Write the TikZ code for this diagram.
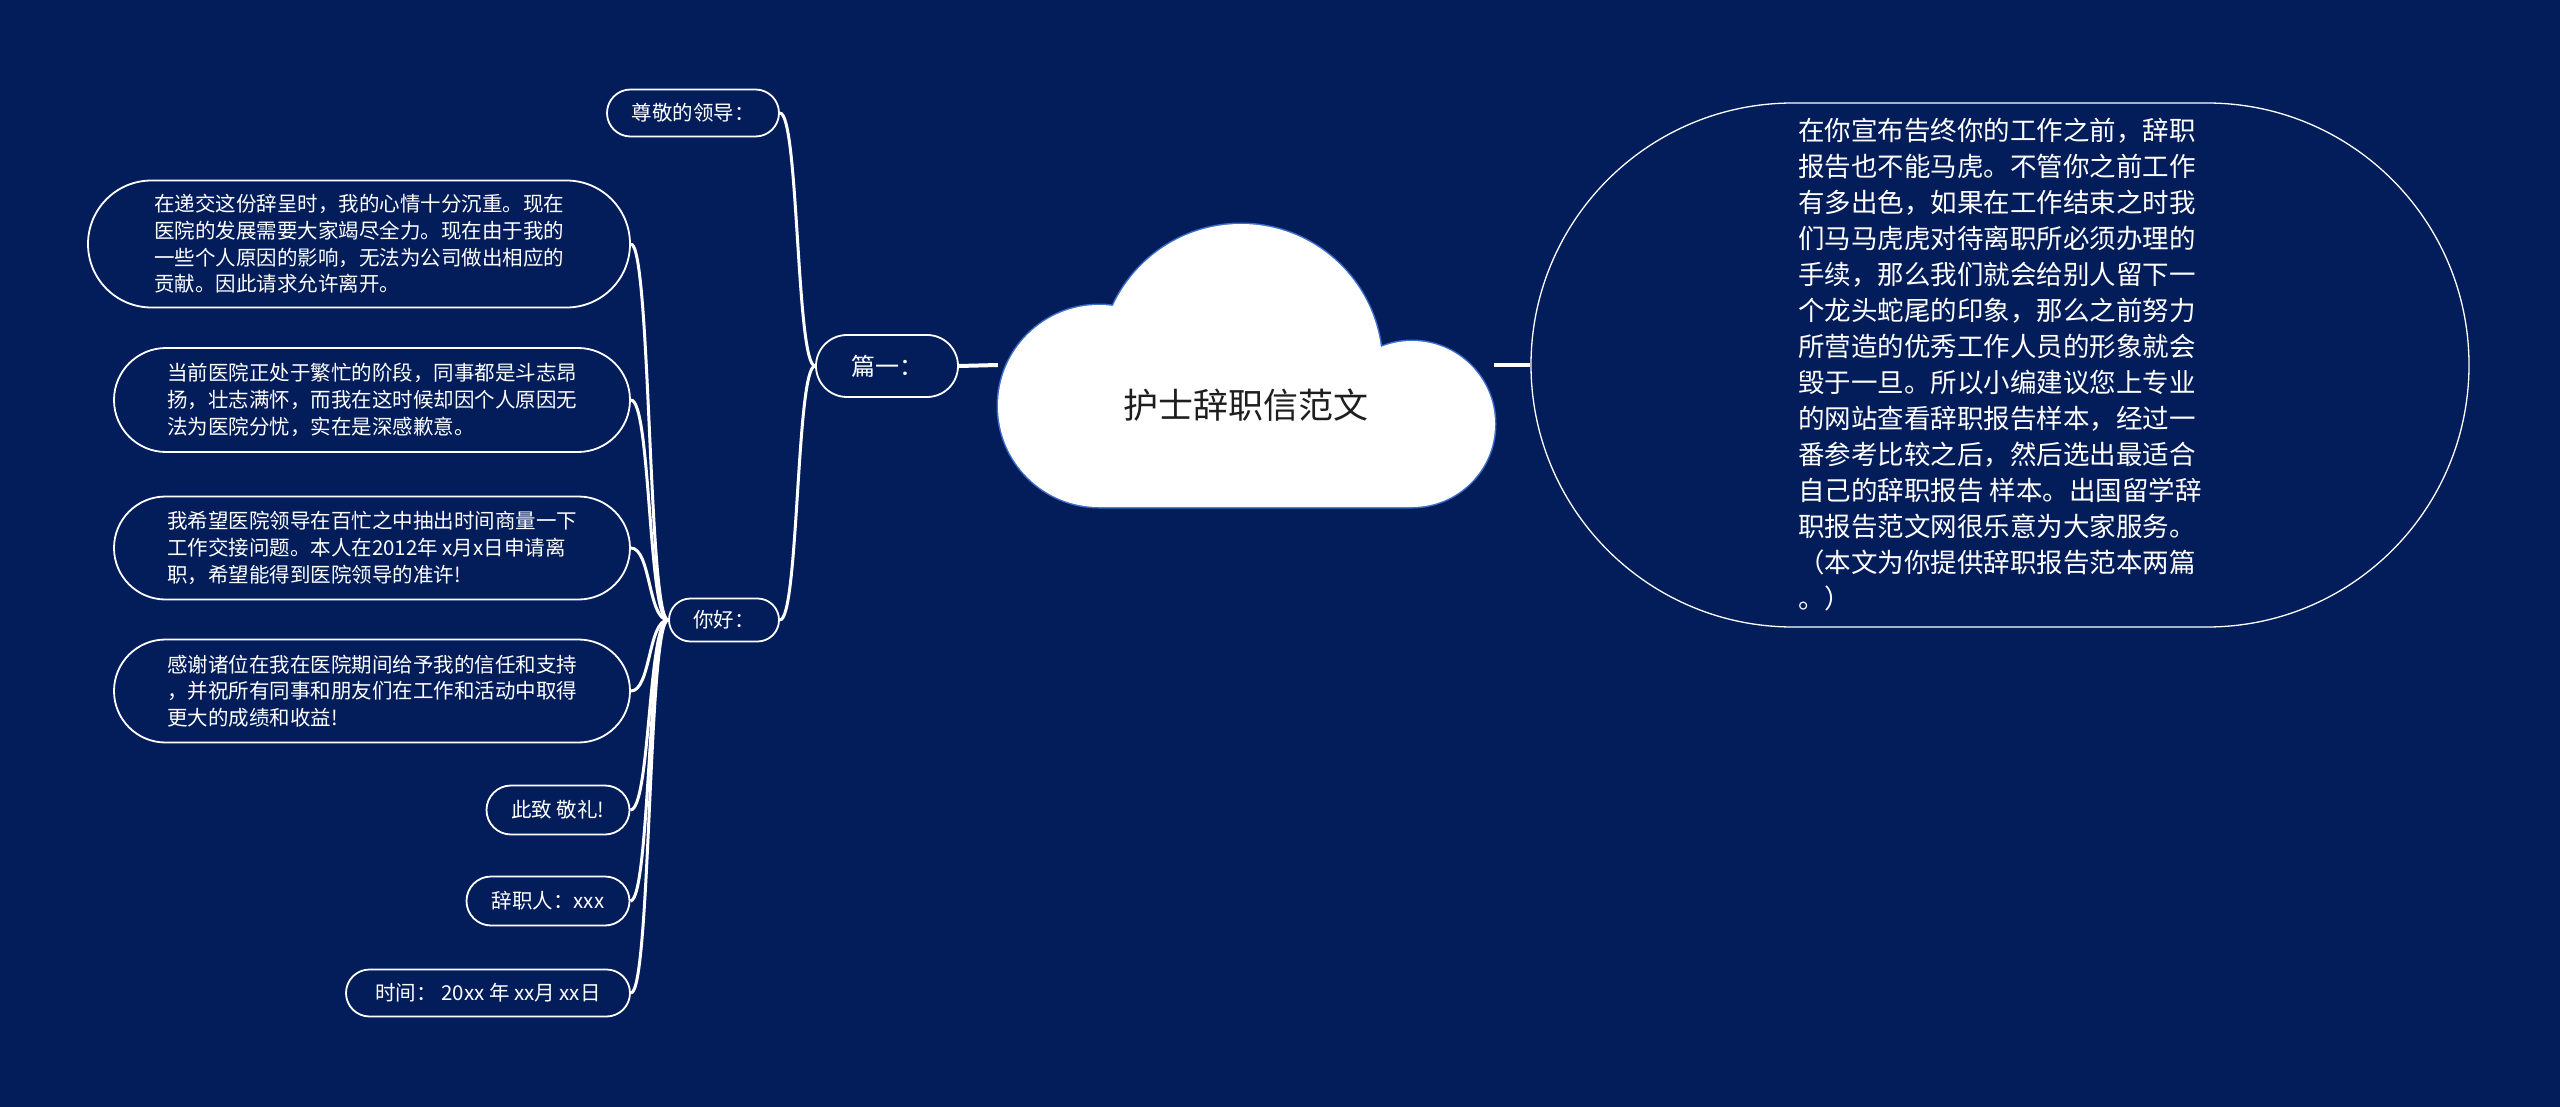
\documentclass[tikz,border=0pt]{standalone}
\usepackage{fontspec}
\setmainfont{Noto Sans CJK SC}
\usetikzlibrary{positioning, shapes.misc, calc}

\definecolor{bgblue}{RGB}{3,29,91}
\definecolor{cloudedge}{RGB}{58,108,200}
\definecolor{titlegray}{RGB}{30,30,30}

\tikzset{
	smalltext/.style={font=\fontsize{20.5}{26.7}\selectfont, text=white}
}
\tikzset{
	bigtext/.style={font=\fontsize{26.5}{36}\selectfont, text=white}
}

\begin{document}
\begin{tikzpicture}[x=1pt, y=-1pt]

      \tikzset{
        basicnode/.style={
            shape=rounded rectangle,
            draw=white,
            line width=1.8pt,
            inner sep=0pt,
            align=left,
            smalltext
          },
        branch/.style={draw=white, line width=3pt}
      }

      \fill[bgblue] (0,0) rectangle (2560,1107);
      \useasboundingbox (0,0) rectangle (2560,1107);

      % cloud
      \draw[cloudedge, line width=3pt] (1241,365) circle[radius=141pt]
        (1099,406) circle[radius=101pt] (1412,424) circle[radius=83pt]
        (1099,420) rectangle (1412,507);
      \fill[white] (1241,365) circle[radius=141pt]
        (1099,406) circle[radius=101pt] (1412,424) circle[radius=83pt]
        (1099,420) rectangle (1412,507);

      \node[minimum width=496pt, minimum height=283pt, inner sep=0pt] (cloud) at (1246,365) {};
      \node[font=\fontsize{35}{40}\selectfont, text=titlegray] (title) at (1246,405) {护士辞职信范文};

      \node[basicnode, line width=1.3pt, bigtext, minimum width=938pt, minimum height=524pt] (intro) at (2000,365)
        {在你宣布告终你的工作之前，辞职\\报告也不能马虎。不管你之前工作\\有多出色，如果在工作结束之时我\\们马马虎虎对待离职所必须办理的\\手续，那么我们就会给别人留下一\\个龙头蛇尾的印象，那么之前努力\\所营造的优秀工作人员的形象就会\\毁于一旦。所以小编建议您上专业\\的网站查看辞职报告样本，经过一\\番参考比较之后，然后选出最适合\\自己的辞职报告 样本。出国留学辞\\职报告范文网很乐意为大家服务。\\（本文为你提供辞职报告范本两篇\\。）};

      \node[basicnode, font=\fontsize{24}{28}\selectfont, minimum width=142pt, minimum height=62pt] (pian1) at (887,366) {篇一：};
      \node[basicnode, minimum width=172pt, minimum height=47pt] (zunjing) at (693,113) {尊敬的领导：};
      \node[basicnode, minimum width=110pt, minimum height=43pt] (nihao) at (724,620) {你好：};

      \node[basicnode, minimum width=542pt, minimum height=127pt] (c1) at (359,244)
        {在递交这份辞呈时，我的心情十分沉重。现在\\医院的发展需要大家竭尽全力。现在由于我的\\一些个人原因的影响，无法为公司做出相应的\\贡献。因此请求允许离开。};
      \node[basicnode, minimum width=516pt, minimum height=104pt] (c2) at (372,400)
        {当前医院正处于繁忙的阶段，同事都是斗志昂\\扬，壮志满怀，而我在这时候却因个人原因无\\法为医院分忧，实在是深感歉意。};
      \node[basicnode, minimum width=516pt, minimum height=103pt] (c3) at (372,548)
        {我希望医院领导在百忙之中抽出时间商量一下\\工作交接问题。本人在2012年 x月x日申请离\\职，希望能得到医院领导的准许!};
      \node[basicnode, minimum width=516pt, minimum height=103pt] (c4) at (372,691)
        {感谢诸位在我在医院期间给予我的信任和支持\\，并祝所有同事和朋友们在工作和活动中取得\\更大的成绩和收益!};
      \node[basicnode, minimum width=143pt, minimum height=49pt] (c5) at (558,810) {此致 敬礼!};
      \node[basicnode, minimum width=163pt, minimum height=49pt] (c6) at (548,901) {辞职人：xxx};
      \node[basicnode, minimum width=284pt, minimum height=47pt] (c7) at (488,993) {时间： 20xx 年 xx月 xx日};

      \draw[white, line width=4pt] (pian1.east) -- (cloud.west);
      \draw[white, line width=4pt] (cloud.east) -- (intro.west);

      \draw[branch] (pian1.west) .. controls +(-19,0) and +(19,0) .. (zunjing.east);
      \draw[branch] (pian1.west) .. controls +(-19,0) and +(19,0) .. (nihao.east);

      \draw[branch] (nihao.west) .. controls +(-20,0) and +(20,0) .. (c1.east);
      \draw[branch] (nihao.west) .. controls +(-20,0) and +(20,0) .. (c2.east);
      \draw[branch] (nihao.west) .. controls +(-20,0) and +(20,0) .. (c3.east);
      \draw[branch] (nihao.west) .. controls +(-20,0) and +(20,0) .. (c4.east);
      \draw[branch] (nihao.west) .. controls +(-20,0) and +(20,0) .. (c5.east);
      \draw[branch] (nihao.west) .. controls +(-20,0) and +(20,0) .. (c6.east);
      \draw[branch] (nihao.west) .. controls +(-20,0) and +(20,0) .. (c7.east);
    \end{tikzpicture}
\end{document}
